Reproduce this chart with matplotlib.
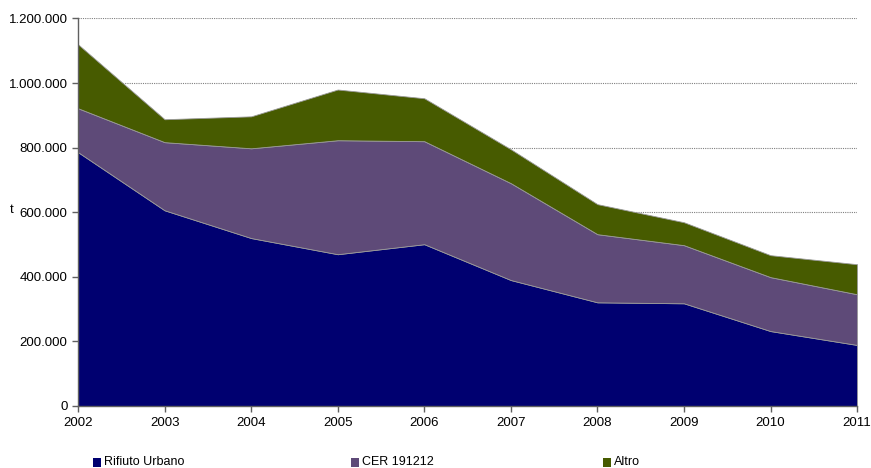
import matplotlib.pyplot as plt
from matplotlib.patches import Rectangle
from matplotlib.ticker import FuncFormatter
import numpy as np

plt.rcParams['font.family'] = ['Liberation Sans', 'DejaVu Sans']

years = [2002, 2003, 2004, 2005, 2006, 2007, 2008, 2009, 2010, 2011]
rifiuto_urbano = [786000, 606000, 520000, 470000, 501000, 390000, 321000, 318000, 232000, 189000]
cer_191212 = [136000, 211000, 278000, 353000, 319000, 300000, 211000, 180000, 167000, 157000]
altro = [198000, 71000, 99000, 157000, 133000, 105000, 93000, 71000, 68000, 93000]

labels = ['Rifiuto Urbano', 'CER 191212', 'Altro']
colors = ['#000070', '#5E4A78', '#475B00']

fig = plt.figure(figsize=(8.71, 4.68), dpi=100)
ax = fig.add_axes([0.0896, 0.1325, 0.8944, 0.828])

ax.stackplot(years, rifiuto_urbano, cer_191212, altro, colors=colors,
             edgecolor='#9a9a9a', linewidth=0.6, zorder=2)

ax.set_xlim(2002, 2011)
ax.set_ylim(0, 1200000)
ax.set_yticks(np.arange(0, 1200001, 200000))
ax.set_xticks(years)
ax.yaxis.set_major_formatter(FuncFormatter(lambda v, p: f'{int(v):,}'.replace(',', '.')))
ax.grid(axis='y', color='#808080', linestyle=(0, (1, 1)), linewidth=0.8, zorder=1)

for s in ['top', 'right']:
    ax.spines[s].set_visible(False)
for s in ['left', 'bottom']:
    ax.spines[s].set_color('#606060')
    ax.spines[s].set_linewidth(1.0)
    ax.spines[s].set_zorder(3)
ax.tick_params(axis='both', labelsize=9.5, color='#606060', length=4, width=1)
ax.tick_params(axis='x', pad=4)
ax.set_ylabel('t', fontsize=9.5, rotation=0)
ax.yaxis.set_label_coords(-0.085, 0.49)

# legend
leg_x = [93, 351, 603]
for x, lab, c in zip(leg_x, labels, colors):
    fig.patches.append(Rectangle((x / 871, (468 - 467) / 468), 8 / 871, 9 / 468,
                                 transform=fig.transFigure, facecolor=c, edgecolor='none'))
    fig.text((x + 11) / 871, (468 - 462) / 468, lab, fontsize=9, va='center', ha='left')

fig.savefig('out.png', dpi=100)
